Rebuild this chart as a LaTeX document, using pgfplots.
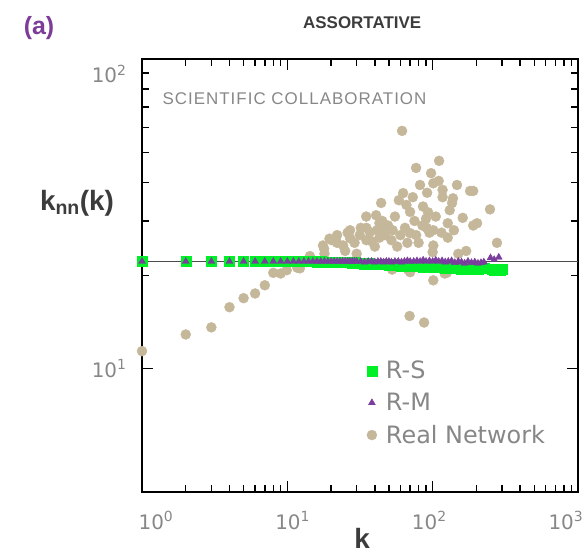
\documentclass[border=0pt]{standalone}
\usepackage{pgfplots}
\pgfplotsset{compat=1.18}
\usepackage{fontspec}
\setmainfont{DejaVu Sans}
\newfontfamily\lib{Liberation Sans}
\newfontfamily\libsp{Liberation Sans}[LetterSpace=6]
\usetikzlibrary{calc}
\definecolor{rsgreen}{RGB}{0,240,40}
\definecolor{rmpurple}{RGB}{122,62,157}
\definecolor{realtan}{RGB}{197,183,154}
\definecolor{labpurple}{RGB}{125,60,152}
\definecolor{tickgray}{RGB}{135,135,135}
\definecolor{titlegray}{RGB}{60,60,60}
\begin{document}
\begin{tikzpicture}
\begin{axis}[name=ax, xmode=log, ymode=log, scale only axis,
  width=436bp, height=433bp, xmin=1, xmax=1000, ymin=4, ymax=100,
  axis line style={line width=1.6bp, black},
  xtick pos=both, ytick pos=both,
  tick align=inside, major tick length=11bp, minor tick length=7bp,
  tick style={black, line width=1.4bp},
  xtick={1,10,100,1000},
  xticklabels={10\textsuperscript{0},10\textsuperscript{1},10\textsuperscript{2},10\textsuperscript{3}},
  xticklabel style={yshift=-16bp, xshift={14bp-8.7bp*\ticknum}},
  ytick={10,100},
  yticklabels={10\textsuperscript{1},10\textsuperscript{2}},
  yticklabel style={xshift=-12bp, yshift={-15bp*\ticknum}},
  ticklabel style={font=\fontsize{20}{24}\selectfont, text=tickgray},
  xlabel={k}, xlabel style={at={(axis description cs:0.505,-0.106)}, anchor=center, font=\lib\bfseries\fontsize{28}{32}\selectfont, text=titlegray},
  ylabel={k\textsubscript{nn}(k)}, ylabel style={rotate=-90, at={(axis description cs:-0.149,0.667)}, anchor=center, font=\lib\bfseries\fontsize{28}{32}\selectfont, text=titlegray},
  title={ASSORTATIVE}, title style={at={(axis description cs:0.505,1.069)}, anchor=center, font=\lib\bfseries\fontsize{17}{20}\selectfont, text=titlegray},
  legend style={draw=none, fill=none, at={(axis description cs:0.5,0.312)}, anchor=north west, font=\fontsize{24}{28}\selectfont, text=tickgray, row sep=9bp},
  legend cell align=left,
  legend image code/.code={\draw[#1] plot coordinates {(0.3cm,0cm)}; \path (0cm,0cm) (0.72cm,0cm);},
]
\addplot[forget plot, black!70, line width=1.2bp] coordinates {(1,22.2) (1000,22.2)};
\addplot[forget plot, only marks, mark=*, mark size=5bp, color=realtan] coordinates {
(1,11.4)(2,12.9)(3,13.6)(4,15.8)(5,16.9)(6,17.5)(7,18.6)(8,20.4)(9,20.3)(9.9,20.8)(11.7,21.2)(12.2,21.1)(13.6,22.1)
(14.3,23.1)(15.3,22.0)(17.6,25.0)(17.9,24.4)(18,23.5)(19.5,26.3)(20.2,26.0)(22,27.0)(22,25.5)(24.2,25.0)(25,24.0)
(26,27.5)(27,26.4)(27,28.0)(29,25.5)(30,23.5)(31.5,27.0)(32,28.5)(34.9,31.0)(35,26.0)(35,28.5)(37,27.6)(38,25.8)
(40,24.8)(40.8,31.3)(41.3,28.0)(43,29.5)(43,26.5)(44.2,34.3)(45,28.3)(45,30.0)(47,27.0)(49.3,29.0)(52,26.0)(52.6,20.9)
(53,28.0)(55,31.0)(57,24.8)(58.5,35.0)(60,27.0)(61.6,58.6)(62.6,36.9)(64.5,28.5)(66,33.8)(67,25.5)(67.6,20.9)
(69.4,14.8)(69.9,32.1)(70,27.4)(70,20.5)(73,35.8)(75,30.0)(76.9,44.5)(77,27.0)(80,25.5)(81.9,39.2)(85,29.0)
(85.8,33.4)(87.3,14.1)(90,30.5)(91,28.5)(91.6,37.0)(93,32.0)(95,27.5)(97.5,42.8)(100,23.8)(101,39.7)(101,28.0)
(101,25.0)(101,19.3)(105,31.0)(110,40.4)(110.7,46.9)(115,27.5)(117,37.8)(117,35.8)(121,20.3)(125,20.4)(127,29.5)
(127,26.5)(131,32.5)(136,34.3)(138,35.5)(140,28.0)(147,39.2)(150,23.5)(161,30.7)(170,24.0)(181,37.5)(190,37.5)
(190,29.0)(202,29.5)(248,32.7)(277,25.5)
};
\addplot[only marks, mark=square*, mark size=5bp, color=rsgreen] coordinates {
(1,22.2)(2,22.2)(3,22.2)(4,22.2)(5,22.2)(6,22.2)(7,22.2)(8,22.2)(9,22.2)(10,22.2)(11,22.2)(12,22.2)(13,22.2)
(14,22.2)(15,22.2)(16,22.1)(17,22.2)(18,22.1)(19,22.1)(20,22.1)(21,22.1)(22,22.1)(23,22.0)(24,22.1)(25,22.0)
(26,22.0)(27,22.0)(28,21.9)(29,22.0)(30,21.9)(32,21.9)(34,21.8)(36,21.9)(38,21.8)(40,21.8)(42,21.7)(44,21.8)
(46,21.7)(48,21.7)(50,21.6)(52,21.7)(55,21.6)(58,21.6)(61,21.5)(64,21.6)(67,21.5)(70,21.5)(74,21.4)(78,21.5)
(82,21.4)(86,21.3)(90,21.4)(95,21.3)(100,21.2)(105,21.3)(110,21.2)(116,21.3)(122,21.1)(128,21.2)(135,21.1)
(142,21.2)(150,21.1)(158,21.0)(166,21.2)(175,21.1)(185,21.0)(195,21.1)(205,21.0)(215,21.2)(225,21.1)
(255,20.9)(265,20.8)(290,20.8)(300,20.9)
};
\addlegendentry{R-S}
\addplot[only marks, mark=triangle*, mark size=4bp, color=rmpurple] coordinates {
(1,22.2)(2,22.2)(3,22.2)(4,22.2)(5,22.2)(6,22.2)(7,22.2)(8,22.2)(9,22.2)(10,22.2)(11,22.2)(12,22.2)(13,22.2)
(14,22.2)(15,22.2)(16,22.2)(17,22.2)(18,22.2)(19,22.2)(20,22.2)(21,22.2)(22,22.2)(23,22.2)(24,22.2)(25,22.2)
(26,22.2)(27,22.2)(28,22.2)(29,22.2)(30,22.2)(32,22.2)(34,22.1)(36,22.2)(38,22.2)(40,22.1)(42,22.2)(44,22.2)
(46,22.1)(48,22.2)(50,22.2)(52,22.1)(55,22.2)(58,22.2)(61,22.1)(64,22.2)(67,22.3)(70,22.2)(74,22.2)(78,22.3)
(82,22.2)(86,22.4)(90,22.2)(95,22.3)(100,22.2)(105,22.4)(110,22.2)(116,22.3)(122,22.1)(128,22.2)(135,22.3)
(142,22.0)(150,22.2)(158,22.1)(166,21.9)(175,22.2)(185,22.0)(195,22.1)(205,21.9)(215,22.0)(225,22.1)
(250,22.8)(265,22.5)(285,22.9)
};
\addlegendentry{R-M}
\addlegendimage{only marks, mark=*, mark size=5bp, color=realtan}
\addlegendentry{Real Network}
\node[anchor=west, font=\libsp\fontsize{17}{20}\selectfont, text=tickgray] at (rel axis cs:0.039,0.908) {SCIENTIFIC COLLABORATION};
\end{axis}
\node[font=\lib\bfseries\fontsize{25}{30}\selectfont, text=labpurple] at ($(ax.south west)+(-103bp,464bp)$) {(a)};
\pgfresetboundingbox
\path ($(ax.south west)+(-142bp,-61bp)$) rectangle ($(ax.south west)+(440bp,492bp)$);
\end{tikzpicture}
\end{document}
